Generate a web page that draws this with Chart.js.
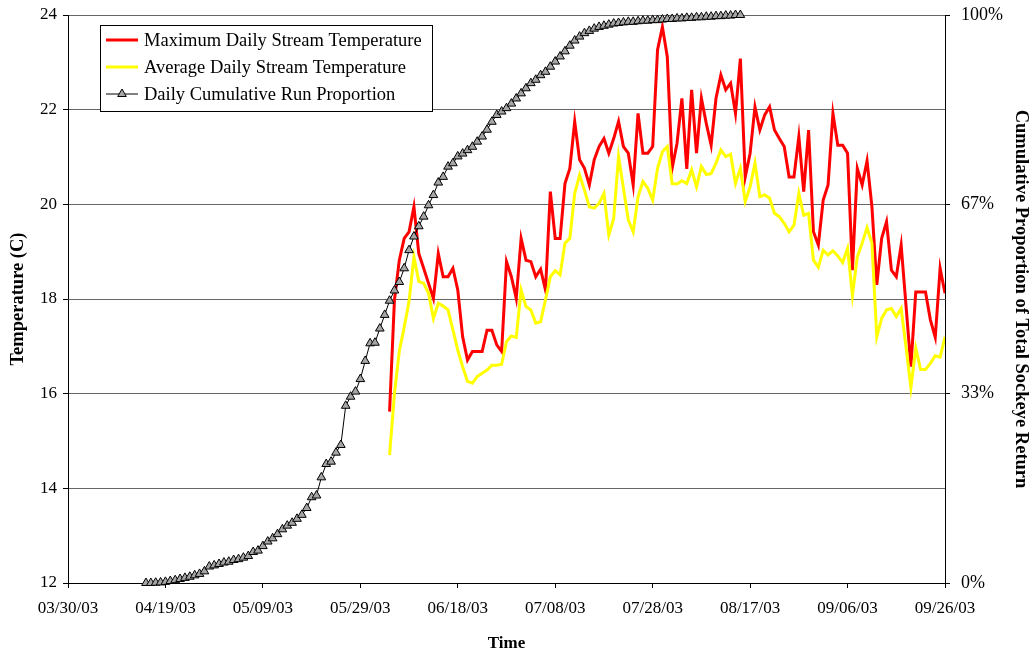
<!DOCTYPE html>
<html>
<head>
<meta charset="utf-8">
<title>Stream Temperature and Sockeye Return</title>
<script src="https://cdn.jsdelivr.net/npm/chart.js@4"></script>
<style>
  body { margin: 0; background: #fff; }
</style>
</head>
<body>
<canvas id="chart" width="1033" height="656"></canvas>
<script>
// x axis: days since 03/30/03, labelled every 20 days
const dateTicks = ['03/30/03', '04/19/03', '05/09/03', '05/29/03', '06/18/03',
  '07/08/03', '07/28/03', '08/17/03', '09/06/03', '09/26/03'];

// stream temperatures start on 06/04/03 (day 66)
const tempStartDay = 66;
const maxTemp = [
  15.62, 17.98, 18.82, 19.28, 19.42, 19.95, 18.96, 18.65, 18.33, 18.01,
  18.96, 18.47, 18.47, 18.65, 18.19, 17.20, 16.71, 16.89, 16.89, 16.89,
  17.34, 17.34, 17.03, 16.89, 18.79, 18.47, 18.01, 19.28, 18.82, 18.79,
  18.47, 18.63, 18.19, 20.27, 19.28, 19.28, 20.44, 20.76, 21.75, 20.94,
  20.76, 20.41, 20.94, 21.22, 21.39, 21.08, 21.39, 21.75, 21.22, 21.08,
  20.41, 21.92, 21.08, 21.08, 21.22, 23.26, 23.75, 23.12, 20.76, 21.29,
  22.24, 20.75, 22.42, 21.08, 22.24, 21.71, 21.25, 22.24, 22.73, 22.42,
  22.56, 21.92, 23.08, 20.58, 21.08, 22.06, 21.57, 21.89, 22.06, 21.57,
  21.39, 21.22, 20.58, 20.58, 21.43, 20.27, 21.57, 19.42, 19.14, 20.09,
  20.41, 21.92, 21.25, 21.25, 21.08, 18.61, 20.76, 20.41, 20.92, 19.95,
  18.30, 19.28, 19.63, 18.61, 18.47, 19.14, 17.86, 16.57, 18.15, 18.15,
  18.15, 17.56, 17.19, 18.65, 18.12
];
const avgTemp = [
  14.70, 16.00, 16.90, 17.40, 17.95, 18.89, 18.37, 18.33, 18.12, 17.59,
  17.91, 17.85, 17.77, 17.35, 16.92, 16.57, 16.26, 16.22, 16.36, 16.43,
  16.50, 16.60, 16.60, 16.62, 17.10, 17.22, 17.19, 18.19, 17.84, 17.77,
  17.49, 17.52, 17.98, 18.47, 18.60, 18.51, 19.18, 19.28, 20.23, 20.62,
  20.30, 19.95, 19.92, 20.02, 20.23, 19.35, 19.70, 21.01, 20.34, 19.67,
  19.42, 20.16, 20.48, 20.34, 20.09, 20.76, 21.11, 21.22, 20.44, 20.43,
  20.50, 20.44, 20.73, 20.37, 20.80, 20.63, 20.65, 20.87, 21.15, 21.01,
  21.06, 20.44, 20.76, 20.06, 20.37, 20.87, 20.16, 20.20, 20.13, 19.81,
  19.74, 19.60, 19.42, 19.56, 20.23, 19.77, 19.81, 18.82, 18.67, 19.03,
  18.93, 19.02, 18.91, 18.77, 19.07, 18.08, 18.89, 19.18, 19.51, 19.18,
  17.20, 17.59, 17.77, 17.80, 17.63, 17.80, 16.99, 16.13, 16.96, 16.51,
  16.51, 16.64, 16.80, 16.77, 17.20
];

// cumulative run proportion starts on 04/15/03 (day 16)
const runStartDay = 16;
const runProportion = [
  0.000, 0.000, 0.0005, 0.001, 0.002, 0.0035, 0.005, 0.007, 0.009, 0.011,
  0.0135, 0.016, 0.0205, 0.029, 0.031, 0.0335, 0.036, 0.0375, 0.0405, 0.042,
  0.0446, 0.0475, 0.0546, 0.057, 0.065, 0.073, 0.0786, 0.086, 0.0945, 0.101,
  0.106, 0.113, 0.120, 0.132, 0.151, 0.154, 0.186, 0.2095, 0.2136, 0.2295,
  0.243, 0.312, 0.328, 0.337, 0.359, 0.391, 0.422, 0.423, 0.448, 0.472,
  0.497, 0.515, 0.530, 0.554, 0.586, 0.610, 0.628, 0.645, 0.665, 0.683,
  0.705, 0.715, 0.733, 0.739, 0.751, 0.756, 0.762, 0.768, 0.777, 0.786,
  0.798, 0.812, 0.824, 0.830, 0.836, 0.844, 0.853, 0.862, 0.871, 0.880,
  0.886, 0.894, 0.900, 0.909, 0.918, 0.927, 0.936, 0.946, 0.955, 0.962,
  0.968, 0.972, 0.976, 0.979, 0.981, 0.983, 0.985, 0.986, 0.987, 0.988,
  0.988, 0.989, 0.990, 0.990, 0.991, 0.991, 0.992, 0.993, 0.993, 0.994,
  0.994, 0.995, 0.995, 0.996, 0.996, 0.997, 0.997, 0.998, 0.998, 0.999,
  0.999, 1.000, 1.000
];

const rightTicks = [0, 1 / 3, 2 / 3, 1];

const toPoints = (start, values) => values.map((v, i) => ({ x: start + i, y: v }));

const FONT = "'Liberation Serif', 'Times New Roman', serif";
Chart.defaults.font.family = FONT;
Chart.defaults.font.size = 17;
Chart.defaults.color = '#000';

// legend box drawn inside the plot, Excel style
const boxLegend = {
  id: 'boxLegend',
  afterDraw(chart) {
    const ctx = chart.ctx;
    const left = 100, top = 25, w = 332, h = 86;
    ctx.save();
    ctx.fillStyle = '#fff';
    ctx.fillRect(left, top, w, h);
    ctx.strokeStyle = '#000';
    ctx.lineWidth = 1;
    ctx.strokeRect(left + 0.5, top + 0.5, w, h);
    ctx.font = '18.5px ' + FONT;
    ctx.textBaseline = 'middle';
    ctx.textAlign = 'left';
    chart.data.datasets.forEach((ds, i) => {
      const y = top + 15 + i * 27;
      ctx.strokeStyle = ds.borderColor;
      ctx.lineWidth = ds.borderWidth;
      ctx.beginPath();
      ctx.moveTo(106, y);
      ctx.lineTo(138, y);
      ctx.stroke();
      if (ds.pointRadius > 0) {
        ctx.fillStyle = ds.pointBackgroundColor;
        ctx.strokeStyle = ds.pointBorderColor;
        ctx.lineWidth = ds.pointBorderWidth;
        Chart.helpers.drawPoint(ctx, { pointStyle: ds.pointStyle, radius: ds.pointRadius, borderWidth: 1 }, 122, y);
      }
      ctx.fillStyle = '#000';
      ctx.fillText(ds.label, 144, y + 1);
    });
    ctx.restore();
  }
};

// keep the plot box fixed: 68..945 by 15..583
const noEdgePadding = (s) => {
  s.paddingTop = 0;
  s.paddingBottom = 0;
  s.paddingLeft = 0;
  s.paddingRight = 0;
};

new Chart(document.getElementById('chart'), {
  type: 'line',
  data: {
    datasets: [
      {
        label: 'Maximum Daily Stream Temperature',
        data: toPoints(tempStartDay, maxTemp),
        borderColor: '#ff0000',
        borderWidth: 3,
        pointRadius: 0,
        yAxisID: 'y',
        order: 3
      },
      {
        label: 'Average Daily Stream Temperature',
        data: toPoints(tempStartDay, avgTemp),
        borderColor: '#ffff00',
        borderWidth: 3,
        pointRadius: 0,
        yAxisID: 'y',
        order: 2
      },
      {
        label: 'Daily Cumulative Run Proportion',
        data: toPoints(runStartDay, runProportion),
        borderColor: '#000',
        borderWidth: 1,
        pointStyle: 'triangle',
        pointRadius: 5,
        pointBackgroundColor: '#a6a6a6',
        pointBorderColor: '#000',
        pointBorderWidth: 1,
        yAxisID: 'y2',
        clip: false,
        order: 1
      }
    ]
  },
  options: {
    responsive: false,
    animation: false,
    devicePixelRatio: 1,
    layout: { padding: { top: 15, left: 0, right: 0, bottom: 0 } },
    plugins: {
      legend: { display: false },
      tooltip: { enabled: false }
    },
    scales: {
      x: {
        type: 'linear',
        min: 0,
        max: 180,
        ticks: {
          stepSize: 20,
          autoSkip: false,
          maxRotation: 0,
          padding: 10,
          callback: (v) => dateTicks[v / 20]
        },
        grid: { drawOnChartArea: false, drawTicks: true, tickLength: 5, tickColor: '#000' },
        border: { color: '#000', width: 1 },
        title: {
          display: true,
          text: 'Time',
          font: { weight: 'bold', size: 17 },
          padding: { top: 0, bottom: 2 }
        },
        afterFit: (s) => { noEdgePadding(s); s.height = 73; }
      },
      y: {
        position: 'left',
        min: 12,
        max: 24,
        ticks: { stepSize: 2, padding: 6 },
        grid: { color: '#666', tickColor: '#000', tickLength: 5 },
        border: { color: '#000', width: 1 },
        title: {
          display: true,
          text: 'Temperature (C)',
          font: { weight: 'bold', size: 18.5 },
          padding: { top: 7, bottom: 0 }
        },
        afterFit: (s) => { noEdgePadding(s); s.width = 68; }
      },
      y2: {
        position: 'right',
        min: 0,
        max: 1,
        afterBuildTicks: (s) => { s.ticks = rightTicks.map(v => ({ value: v })); },
        ticks: { padding: 11, font: { size: 18 }, callback: (v) => Math.round(v * 100) + '%' },
        grid: { drawOnChartArea: false, tickColor: '#000', tickLength: 5 },
        border: { color: '#000', width: 1 },
        title: {
          display: true,
          text: 'Cumulative Proportion of Total Sockeye Return',
          font: { weight: 'bold', size: 18.5 },
          padding: { top: 1, bottom: 0 }
        },
        afterFit: (s) => { noEdgePadding(s); s.width = 88; }
      }
    }
  },
  plugins: [boxLegend]
});
</script>
</body>
</html>
